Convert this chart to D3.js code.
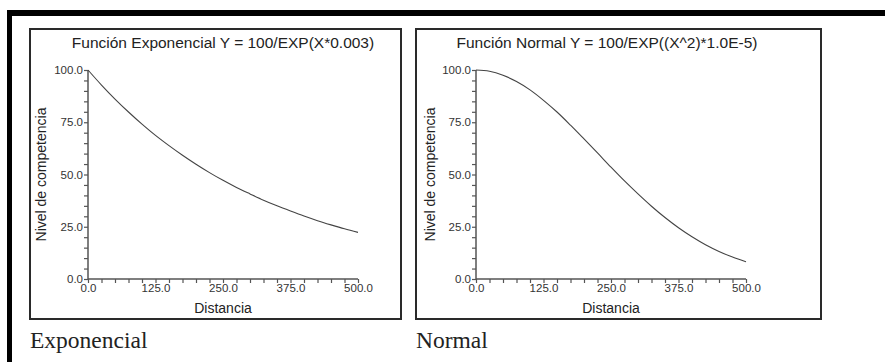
<!DOCTYPE html>
<html>
<head>
<meta charset="utf-8">
<script src="https://cdn.jsdelivr.net/npm/d3@7"></script>
<style>
  html, body { margin: 0; padding: 0; background: #fff; }
  svg { display: block; }
  .tick text { font-family: "Liberation Sans", Arial, sans-serif; font-size: 11.5px; fill: #333; }
</style>
</head>
<body>
<svg id="chart" width="885" height="362"></svg>
<script>
// ---- data ----
const distance = [0, 25, 50, 75, 100, 125, 150, 175, 200, 225, 250, 275, 300, 325, 350, 375, 400, 425, 450, 475, 500];
const exponentialLevel = [100, 92.8, 86.1, 79.9, 74.1, 68.7, 63.8, 59.2, 54.9, 50.9, 47.2, 43.8, 40.7, 37.7, 35.0, 32.5, 30.1, 27.9, 25.9, 24.0, 22.3];
const normalLevel = [100, 99.4, 97.5, 94.5, 90.5, 85.5, 79.9, 73.6, 67.0, 60.3, 53.5, 46.9, 40.7, 34.8, 29.4, 24.5, 20.2, 16.4, 13.2, 10.5, 8.2];

const xTickValues = [0, 25, 50, 75, 100, 125, 150, 175, 200, 225, 250, 275, 300, 325, 350, 375, 400, 425, 450, 475, 500];
const xLabelValues = [0, 125, 250, 375, 500];
const yTickValues = [0, 5, 10, 15, 20, 25, 30, 35, 40, 45, 50, 55, 60, 65, 70, 75, 80, 85, 90, 95, 100];
const yLabelValues = [0, 25, 50, 75, 100];

const titles = ["Función Exponencial Y = 100/EXP(X*0.003)", "Función Normal Y = 100/EXP((X^2)*1.0E-5)"];
const captions = ["Exponencial", "Normal"];
const xAxisTitle = "Distancia";
const yAxisTitle = "Nivel de competencia";

// ---- drawing ----
const svg = d3.select("#chart");
const sans = "'Liberation Sans', Arial, sans-serif";
const serif = "'Liberation Serif', 'Times New Roman', serif";

// outer black frame (top and left)
svg.append("rect").attr("x", 7).attr("y", 10).attr("width", 878).attr("height", 6).attr("fill", "#000");
svg.append("rect").attr("x", 7).attr("y", 10).attr("width", 5).attr("height", 352).attr("fill", "#000");

const panels = [
  { box: [30, 29, 371, 290], plot: [88, 358], values: exponentialLevel, title: titles[0], caption: captions[0], titleX: 223, ylabX: 46, captionX: 30 },
  { box: [416, 29, 405, 290], plot: [476, 746], values: normalLevel, title: titles[1], caption: captions[1], titleX: 607, ylabX: 435, captionX: 416 }
];

const yTop = 70, yBottom = 279;
const fmt = d3.format(".1f");

panels.forEach(p => {
  const g = svg.append("g");
  g.append("rect")
    .attr("x", p.box[0]).attr("y", p.box[1])
    .attr("width", p.box[2]).attr("height", p.box[3])
    .attr("fill", "none").attr("stroke", "#2a2a2a").attr("stroke-width", 2);

  const x = d3.scaleLinear().domain([0, 500]).range(p.plot);
  const y = d3.scaleLinear().domain([0, 100]).range([yBottom, yTop]);

  const xAxis = d3.axisBottom(x)
    .tickValues(xTickValues)
    .tickSize(4).tickPadding(1)
    .tickFormat(d => xLabelValues.includes(d) ? fmt(d) : "");
  const yAxis = d3.axisLeft(y)
    .tickValues(yTickValues)
    .tickSize(4).tickPadding(1)
    .tickFormat(d => yLabelValues.includes(d) ? fmt(d) : "");

  const gx = g.append("g").attr("transform", `translate(0,${yBottom})`).call(xAxis);
  const gy = g.append("g").attr("transform", `translate(${p.plot[0]},0)`).call(yAxis);
  [gx, gy].forEach(a => {
    a.select(".domain").attr("stroke", "#555").attr("stroke-width", 1.5);
    a.selectAll(".tick line").attr("stroke", "#555").attr("stroke-width", 1.2);
    a.selectAll(".tick text").attr("fill", "#333");
  });
  gx.select(".domain").attr("d", `M${p.plot[0]},0H${p.plot[1]}`);
  gy.select(".domain").attr("d", `M0,${yTop}V${yBottom}`);

  // curve
  const line = d3.line()
    .x((d, i) => x(distance[i]))
    .y(d => y(d))
    .curve(d3.curveMonotoneX);
  g.append("path").datum(p.values)
    .attr("d", line)
    .attr("fill", "none").attr("stroke", "#444").attr("stroke-width", 1.1);

  // title
  g.append("text").attr("x", p.titleX).attr("y", 48)
    .attr("text-anchor", "middle")
    .attr("font-family", sans).attr("font-size", 15.5).attr("fill", "#222")
    .text(p.title);

  // x-axis title
  g.append("text").attr("x", (p.plot[0] + p.plot[1]) / 2).attr("y", 313)
    .attr("text-anchor", "middle")
    .attr("font-family", sans).attr("font-size", 14).attr("fill", "#222")
    .text(xAxisTitle);

  // y-axis title
  g.append("text")
    .attr("transform", `translate(${p.ylabX},${(yTop + yBottom) / 2}) rotate(-90)`)
    .attr("text-anchor", "middle")
    .attr("font-family", sans).attr("font-size", 14).attr("fill", "#222")
    .text(yAxisTitle);

  // caption below panel
  g.append("text").attr("x", p.captionX).attr("y", 348)
    .attr("font-family", serif).attr("font-size", 23.5).attr("fill", "#222")
    .text(p.caption);
});
</script>
</body>
</html>
